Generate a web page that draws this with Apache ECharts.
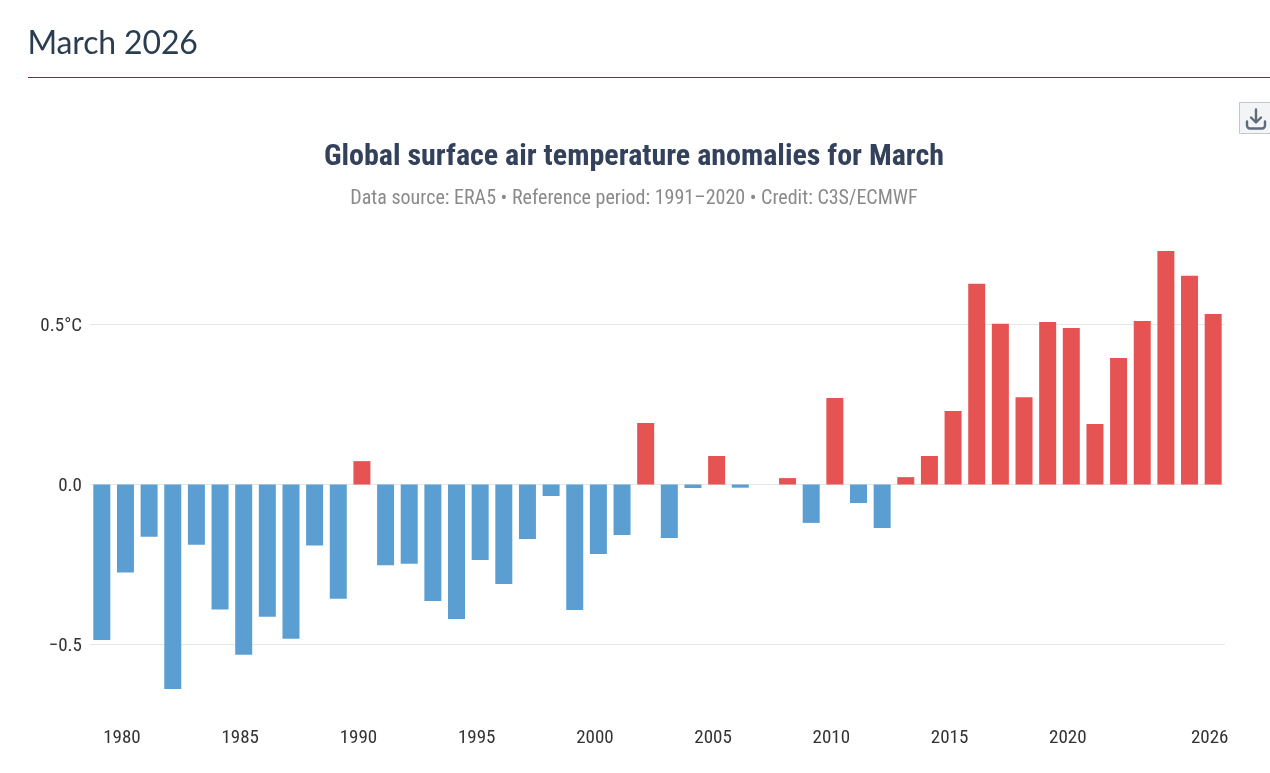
<!DOCTYPE html>
<html>
<head>
<meta charset="utf-8">
<title>March 2026</title>
<style>
html,body{margin:0;padding:0;background:#fff;width:1270px;height:773px;overflow:hidden}
#chart{position:absolute;left:0;top:0;width:1270px;height:773px}
h1{position:absolute;left:27.5px;top:22px;margin:0;font:400 32px/40px Lato,sans-serif;letter-spacing:-0.15px;color:#2b3d50}
#dl{position:absolute;left:1239px;top:102px;width:31px;height:32px;box-sizing:border-box;background:#f3f4f6;border:1px solid #c4c7cc;border-right:0}
#dl svg{position:absolute;left:4px;top:4px}
</style>
<script src="https://cdn.jsdelivr.net/npm/echarts@6/dist/echarts.min.js"></script>
</head>
<body>
<div id="chart"></div>
<h1>March 2026</h1>
<div id="dl"><svg width="24" height="24" viewBox="0 0 24 24" fill="none" stroke="#5f6b7a" stroke-width="2.4" stroke-linecap="round" stroke-linejoin="round"><path d="M12 2.5V15M7 10.5l5 5 5-5"/><path d="M3 14.5v4a3 3 0 0 0 3 3h12a3 3 0 0 0 3-3v-4"/></svg></div>
<script>
const years = ['1979','1980','1981','1982','1983','1984','1985','1986','1987','1988','1989','1990','1991','1992','1993','1994','1995','1996','1997','1998','1999','2000','2001','2002','2003','2004','2005','2006','2007','2008','2009','2010','2011','2012','2013','2014','2015','2016','2017','2018','2019','2020','2021','2022','2023','2024','2025','2026'];
const anomalies = [-0.486,-0.275,-0.163,-0.639,-0.188,-0.391,-0.532,-0.413,-0.482,-0.191,-0.357,0.073,-0.252,-0.248,-0.364,-0.42,-0.236,-0.311,-0.17,-0.036,-0.392,-0.217,-0.158,0.192,-0.167,-0.011,0.089,-0.01,0,0.02,-0.12,0.27,-0.058,-0.136,0.023,0.089,0.23,0.627,0.502,0.273,0.508,0.489,0.189,0.395,0.511,0.73,0.652,0.533];
const labelledYears = ['1980','1985','1990','1995','2000','2005','2010','2015','2020','2026'];
const yTicks = [-0.5,0,0.5];
const narrow = '"Liberation Sans Narrow","Roboto Condensed",Roboto,sans-serif';

const chart = echarts.init(document.getElementById('chart'), null, {renderer:'canvas'});
chart.setOption({
  animation:false,
  title:{
    text:'Global surface air temperature anomalies for March',
    subtext:'Data source: ERA5 • Reference period: 1991–2020 • Credit: C3S/ECMWF',
    left:629, top:135, textAlign:'center', itemGap:14,
    textStyle:{fontFamily:narrow,fontWeight:700,fontSize:30,lineHeight:34,color:'#33415c'},
    subtextStyle:{fontFamily:narrow,fontSize:20,lineHeight:22,color:'#8a8a8a'}
  },
  graphic:[{
    type:'rect', silent:true,
    shape:{x:28,y:77,width:1242,height:1},
    style:{fill:'#8c1d52'}
  }],
  grid:{left:90,right:45,top:244.5,height:476.8},
  xAxis:{
    type:'category',
    data:years,
    axisLine:{show:false},
    axisTick:{show:false},
    axisLabel:{
      interval:(i,v)=>labelledYears.includes(v),
      margin:6,
      padding:[1,7,0,0],
      fontFamily:narrow,fontSize:19,color:'#333'
    }
  },
  yAxis:{
    type:'value',
    min:-0.74,max:0.75,
    axisLine:{show:false},
    axisTick:{show:false,customValues:yTicks},
    splitLine:{show:true,lineStyle:{color:'#e6e6e6',width:1}},
    axisLabel:{
      customValues:yTicks,
      margin:8,
      verticalAlign:'top',
      lineHeight:4,
      fontFamily:narrow,fontSize:19,color:'#333',
      formatter:v=>v===0.5?'0.5°C':v===0?'0.0':'−0.5'
    }
  },
  series:[{
    type:'bar',
    data:anomalies,
    barWidth:17,
    itemStyle:{color:p=>p.value>=0?'#e55353':'#5b9fd2'}
  }]
});
</script>
</body>
</html>
